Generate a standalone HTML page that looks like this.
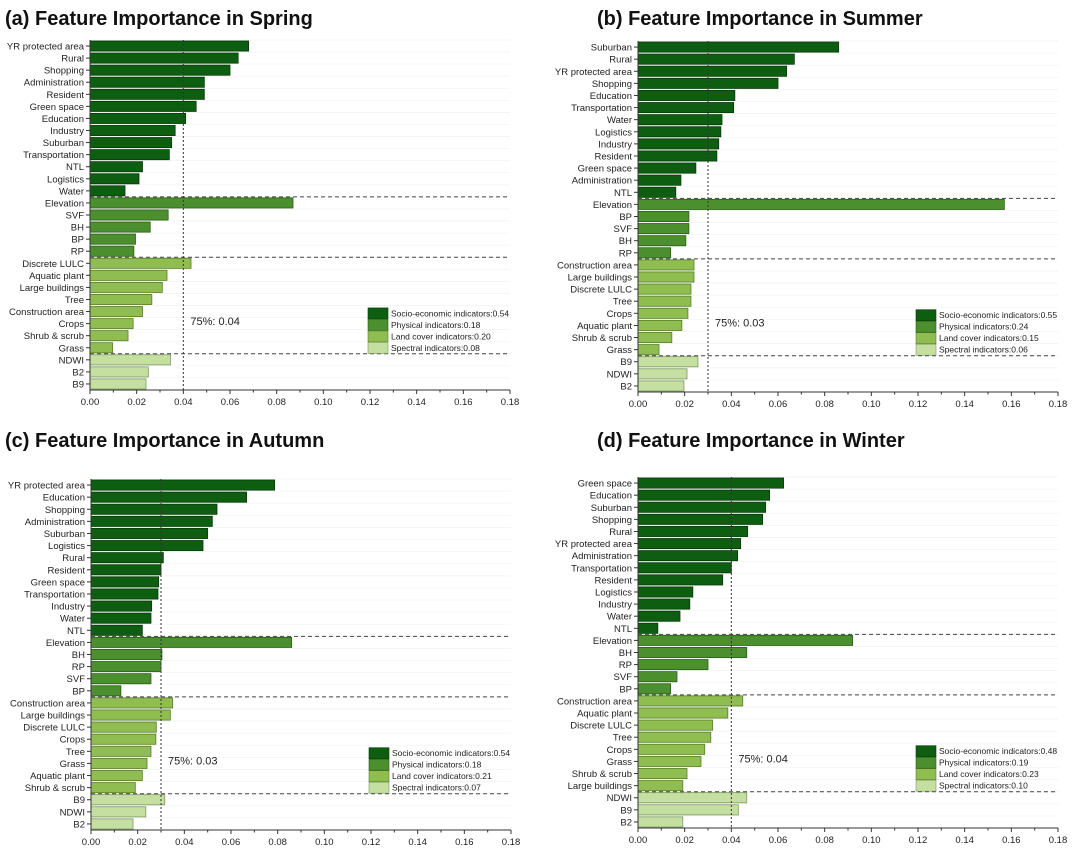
<!DOCTYPE html>
<html><head><meta charset="utf-8"><style>
body{margin:0;background:#fff;width:1080px;height:850px;overflow:hidden}
svg{display:block;font-family:"Liberation Sans",sans-serif}
</style></head><body>
<svg id="chart" width="1080" height="850"></svg>
<script>
const springLabels=["YR protected area","Rural","Shopping","Administration","Resident","Green space","Education","Industry","Suburban","Transportation","NTL","Logistics","Water","Elevation","SVF","BH","BP","RP","Discrete LULC","Aquatic plant","Large buildings","Tree","Construction area","Crops","Shrub & scrub","Grass","NDWI","B2","B9"];
const springValues=[0.068,0.0635,0.060,0.049,0.049,0.0455,0.041,0.0365,0.035,0.034,0.0225,0.021,0.015,0.087,0.0335,0.0258,0.0195,0.0188,0.0433,0.033,0.031,0.0265,0.0225,0.0185,0.0163,0.0097,0.0345,0.025,0.024];
const summerLabels=["Suburban","Rural","YR protected area","Shopping","Education","Transportation","Water","Logistics","Industry","Resident","Green space","Administration","NTL","Elevation","BP","SVF","BH","RP","Construction area","Large buildings","Discrete LULC","Tree","Crops","Aquatic plant","Shrub & scrub","Grass","B9","NDWI","B2"];
const summerValues=[0.086,0.067,0.0637,0.060,0.0415,0.041,0.036,0.0355,0.0346,0.0338,0.0248,0.0184,0.0162,0.157,0.0218,0.0218,0.0205,0.014,0.024,0.024,0.0227,0.0227,0.0214,0.0188,0.0145,0.009,0.0257,0.021,0.0197];
const autumnLabels=["YR protected area","Education","Shopping","Administration","Suburban","Logistics","Rural","Resident","Green space","Transportation","Industry","Water","NTL","Elevation","BH","RP","SVF","BP","Construction area","Large buildings","Discrete LULC","Crops","Tree","Grass","Aquatic plant","Shrub & scrub","B9","NDWI","B2"];
const autumnValues=[0.0787,0.0667,0.054,0.052,0.050,0.048,0.031,0.030,0.029,0.0287,0.026,0.0257,0.022,0.086,0.0304,0.030,0.0257,0.0128,0.035,0.034,0.028,0.0278,0.0257,0.024,0.022,0.019,0.0316,0.0235,0.018];
const winterLabels=["Green space","Education","Suburban","Shopping","Rural","YR protected area","Administration","Transportation","Resident","Logistics","Industry","Water","NTL","Elevation","BH","RP","SVF","BP","Construction area","Aquatic plant","Discrete LULC","Tree","Crops","Grass","Shrub & scrub","Large buildings","NDWI","B9","B2"];
const winterValues=[0.0624,0.0564,0.0547,0.0534,0.047,0.044,0.0427,0.040,0.0363,0.0235,0.0222,0.018,0.0085,0.092,0.0466,0.030,0.0167,0.014,0.0449,0.0385,0.032,0.0312,0.0286,0.027,0.021,0.0192,0.0466,0.043,0.0192];
const groupSizes=[13,5,8,3];
const springLegend=[0.54,0.18,0.20,0.08];
const summerLegend=[0.55,0.24,0.15,0.06];
const autumnLegend=[0.54,0.18,0.21,0.07];
const winterLegend=[0.48,0.19,0.23,0.10];
const thresholds=[0.04,0.03,0.03,0.04];
const xTicks=[0,0.02,0.04,0.06,0.08,0.10,0.12,0.14,0.16,0.18];
const titles=["(a) Feature Importance in Spring","(b) Feature Importance in Summer","(c) Feature Importance in Autumn","(d) Feature Importance in Winter"];
const legendNames=["Socio-economic indicators","Physical indicators","Land cover indicators","Spectral indicators"];
const fills=["#0e5e12","#4b8f2f","#8fbd50","#c4dfa0"];
const strokes=["#063a08","#2b5e19","#587d2c","#7e9a62"];

const NS="http://www.w3.org/2000/svg";
const svg=document.getElementById('chart');
function mk(tag,attrs,parent,text){const e=document.createElementNS(NS,tag);for(const k in attrs)e.setAttribute(k,attrs[k]);if(text!==undefined)e.textContent=text;parent.appendChild(e);return e;}

const panels=[
 {labels:springLabels,values:springValues,legend:springLegend,x0:90,x1:510,yTop:40,yBot:390,tx:5,ty:25,name:'spring'},
 {labels:summerLabels,values:summerValues,legend:summerLegend,x0:638,x1:1058,yTop:41,yBot:392,tx:597,ty:25,name:'summer'},
 {labels:autumnLabels,values:autumnValues,legend:autumnLegend,x0:91,x1:511,yTop:479,yBot:830,tx:5,ty:447,name:'autumn'},
 {labels:winterLabels,values:winterValues,legend:winterLegend,x0:638,x1:1058,yTop:477,yBot:828,tx:597,ty:447,name:'winter'}
];
panels.forEach((p,pi)=>{
 const g=mk('g',{},svg);
 
 
 const xs=v=>p.x0+(v/0.18)*(p.x1-p.x0);
 const n=p.labels.length, band=(p.yBot-p.yTop)/n;
 const yc=i=>p.yTop+band*(i+0.5);
 const t=mk('text',{x:p.tx,y:p.ty,'font-size':20,'font-weight':'bold',fill:'#111'},g,titles[pi]);
 
 
 for(let i=0;i<n;i++){mk('line',{x1:p.x0,x2:p.x1,y1:yc(i)-band/2,y2:yc(i)-band/2,stroke:'#f3f3f3','stroke-width':0.8},g);}
 let grp=0,cum=groupSizes[0];
 for(let i=0;i<n;i++){
  while(i>=cum){grp++;cum+=groupSizes[grp];}
  const r=mk('rect',{x:p.x0,y:yc(i)-band*0.42,width:xs(p.values[i])-p.x0,height:band*0.84,fill:fills[grp],stroke:strokes[grp],'stroke-width':0.8},g);
  
  
  mk('line',{x1:p.x0-4,x2:p.x0,y1:yc(i),y2:yc(i),stroke:'#333'},g);
  const l=mk('text',{x:p.x0-6,y:yc(i)+3.5,'font-size':9.5,'text-anchor':'end',fill:'#222'},g,p.labels[i]);
  
  
 }
 let c=0;
 for(let k=0;k<3;k++){c+=groupSizes[k];const y=p.yTop+band*c;mk('line',{x1:p.x0,x2:p.x1,y1:y,y2:y,stroke:'#444','stroke-dasharray':'4,3','stroke-width':1},g);}
 const tx=xs(thresholds[pi]);
 const th=mk('line',{x1:tx,x2:tx,y1:p.yTop,y2:p.yBot,stroke:'#333','stroke-dasharray':'2,2','stroke-width':1},g);
 
 
 mk('text',{x:tx+7,y:p.yTop+band*23.6,'font-size':11,fill:'#222'},g,'75%: '+thresholds[pi].toFixed(2));
 mk('line',{x1:p.x0,x2:p.x0,y1:p.yTop,y2:p.yBot,stroke:'#333'},g);
 mk('line',{x1:p.x0,x2:p.x1,y1:p.yBot,y2:p.yBot,stroke:'#333'},g);
 xTicks.forEach((v,k)=>{
  mk('line',{x1:xs(v),x2:xs(v),y1:p.yBot,y2:p.yBot+4,stroke:'#333'},g);
  if(k<xTicks.length-1)mk('line',{x1:xs(v+0.01),x2:xs(v+0.01),y1:p.yBot,y2:p.yBot+2.5,stroke:'#333'},g);
  const tl=mk('text',{x:xs(v),y:p.yBot+15,'font-size':9.5,'text-anchor':'middle',fill:'#222'},g,v.toFixed(2));
  
  
 });
 const lx=p.x0+278,ly=p.yTop+band*22.2;
 const lg=mk('g',{},g);
 
 
 for(let k=0;k<4;k++){
  mk('rect',{x:lx,y:ly+k*11.5,width:20,height:11,fill:fills[k],stroke:strokes[k],'stroke-width':0.6},lg);
  mk('text',{x:lx+23,y:ly+k*11.5+8.5,'font-size':8.5,fill:'#222'},lg,legendNames[k]+':'+p.legend[k].toFixed(2));
 }
});
</script>
</body></html>
